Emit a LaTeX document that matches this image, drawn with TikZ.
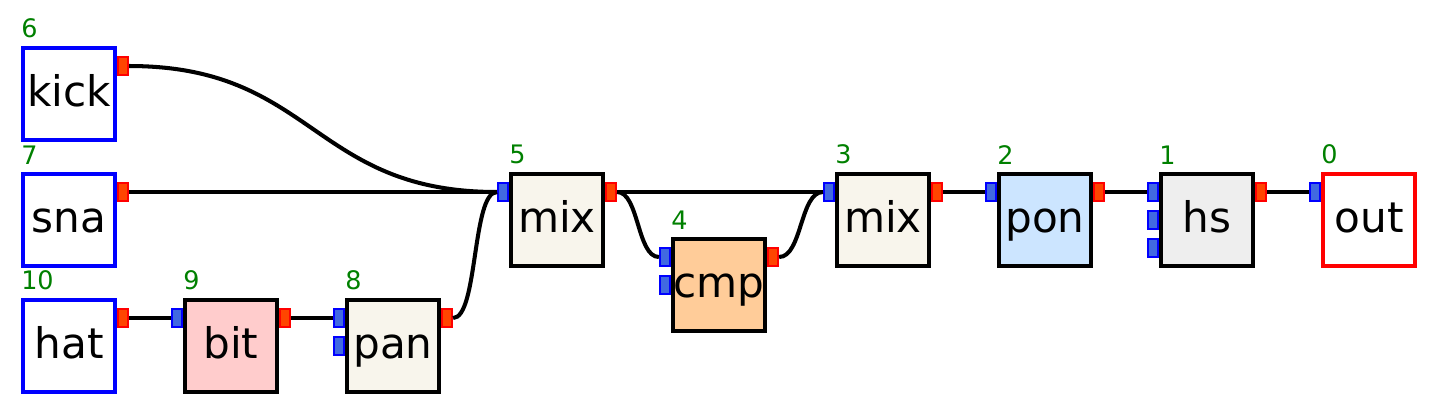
\documentclass[tikz,border=0pt]{standalone}
\usepackage{fontspec}
\setmainfont{DejaVu Sans}
\usetikzlibrary{positioning}

\definecolor{portblue}{HTML}{4169E1}
\definecolor{portred}{HTML}{FF4500}
\definecolor{srcblue}{HTML}{0000FF}
\definecolor{numgreen}{HTML}{008000}
\definecolor{bitpink}{HTML}{FFCCCC}
\definecolor{mixcream}{HTML}{F8F5EC}
\definecolor{cmppeach}{HTML}{FFCC99}
\definecolor{ponblue}{HTML}{CCE5FF}
\definecolor{hsgrey}{HTML}{EEEEEE}

\tikzset{
  ugen/.style={rectangle, draw=black, fill=white, line width=2.4pt, minimum size=1.84cm,
    inner sep=0pt, text height=0.48cm, text depth=0pt, font=\fontsize{24}{28}\selectfont},
  srcbox/.style={ugen, draw=srcblue},
  sinkbox/.style={ugen, draw=red},
  inport/.style={rectangle, draw=srcblue, fill=portblue, line width=1.1pt,
    minimum width=0.2cm, minimum height=0.36cm, inner sep=0pt},
  outport/.style={inport, draw=red, fill=portred},
  ugennum/.style={text=numgreen, font=\fontsize{14.5}{17}\selectfont, inner sep=0pt},
  wire/.style={line width=2.3pt}
}

% box with its green index above
\newcommand\ugenbox[6]{%
  \node[#4] (#1) at (#2,#3) {#5};
  \node[ugennum, above right=0.15cm and 0cm of #1.north west] (#1-num) {#6};
}
% input ports, counted from the top
\newcommand\inports[2]{%
  \foreach \i in {1,...,#2}
    \node[inport] (#1-i\i) at ([xshift=-0.12cm, yshift=1.12cm-\i*0.56cm]#1.west) {};
}
\newcommand\outport[1]{%
  \node[outport] (#1-o) at ([xshift=0.12cm, yshift=0.56cm]#1.east) {};
}

\begin{document}
\begin{tikzpicture}[x=0.02cm, y=-0.02cm]
  %%%%% START %%%%%
  \useasboundingbox (0,0) rectangle (1440,417);

  \ugenbox{kick}{69}{94}{srcbox}{kick}{6}
  \ugenbox{sna}{69}{220}{srcbox}{sna}{7}
  \ugenbox{hat}{69}{346}{srcbox}{hat}{10}
  \outport{kick} \outport{sna} \outport{hat}

  \ugenbox{bit}{231}{346}{ugen, fill=bitpink}{bit}{9}
  \inports{bit}{1} \outport{bit}
  \ugenbox{pan}{393}{346}{ugen, fill=mixcream}{pan}{8}
  \inports{pan}{2} \outport{pan}

  \ugenbox{mixA}{557}{220}{ugen, fill=mixcream}{mix}{5}
  \inports{mixA}{1} \outport{mixA}
  \ugenbox{cmp}{719}{285}{ugen, fill=cmppeach}{cmp}{4}
  \inports{cmp}{2} \outport{cmp}
  \ugenbox{mixB}{883}{220}{ugen, fill=mixcream}{mix}{3}
  \inports{mixB}{1} \outport{mixB}

  \ugenbox{pon}{1045}{220}{ugen, fill=ponblue}{pon}{2}
  \inports{pon}{1} \outport{pon}
  \ugenbox{hs}{1207}{220}{ugen, fill=hsgrey}{hs}{1}
  \inports{hs}{3} \outport{hs}
  \ugenbox{out}{1369}{220}{sinkbox}{out}{0}
  \inports{out}{1}

  % wires
  \draw[wire] (kick-o.east) .. controls +(185,0) and +(-185,0) .. (mixA-i1.west);
  \draw[wire] (sna-o.east) -- (mixA-i1.west);
  \draw[wire] (hat-o.east) -- (bit-i1.west);
  \draw[wire] (bit-o.east) -- (pan-i1.west);
  \draw[wire] (pan-o.east) .. controls +(25,0) and +(-25,0) .. (mixA-i1.west);
  \draw[wire] (mixA-o.east) -- (mixB-i1.west);
  \draw[wire] (mixA-o.east) .. controls +(22,0) and +(-22,0) .. (cmp-i1.west);
  \draw[wire] (cmp-o.east) .. controls +(23,0) and +(-23,0) .. (mixB-i1.west);
  \draw[wire] (mixB-o.east) -- (pon-i1.west);
  \draw[wire] (pon-o.east) -- (hs-i1.west);
  \draw[wire] (hs-o.east) -- (out-i1.west);
  %%%%% END %%%%%
\end{tikzpicture}
\end{document}
